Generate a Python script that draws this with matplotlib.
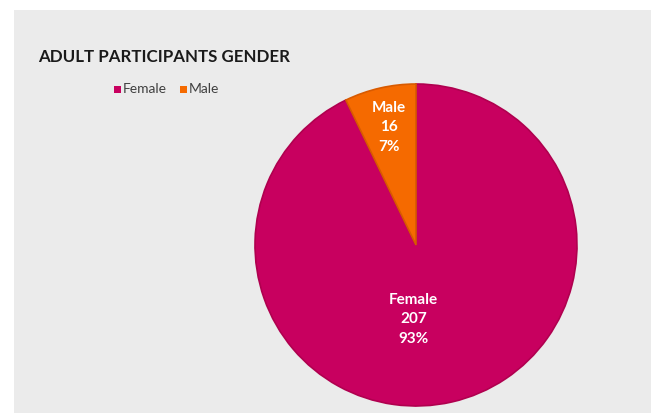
import numpy as np
import matplotlib
matplotlib.use('Agg')
import matplotlib.pyplot as plt
from matplotlib.patches import Rectangle

labels = ['Female', 'Male']
counts = [207, 16]
colors = ['#C8005F', '#F56A00']
edges = ['#B0004F', '#D85A00']
label_dist = [0.46, 0.75]
label_turn = [-15, 0]  # degrees, nudges label off the slice bisector like Excel

plt.rcParams['font.family'] = ['Lato', 'DejaVu Sans']

fig = plt.figure(figsize=(6.51, 4.13), dpi=100)
fig.patch.set_facecolor('white')
fig.patches.append(Rectangle((14 / 651, 0), 1, 403 / 413, transform=fig.transFigure,
                             facecolor='#EBEBEB', edgecolor='none', zorder=-5))

fig.text(38 / 651, 1 - 57 / 413, 'ADULT PARTICIPANTS GENDER', fontsize=12.2,
         fontweight='bold', color='#1a1a1a', va='center', ha='left')

# legend
for name, c, x in zip(labels, colors, [114, 180]):
    fig.patches.append(Rectangle((x / 651, 1 - 93 / 413), 7 / 651, 7 / 413,
                                 transform=fig.transFigure, facecolor=c, edgecolor='none'))
    fig.text((x + 9) / 651, 1 - 89 / 413, name, fontsize=10, color='#404040',
             va='center', ha='left')

cx, cy, r = 416, 413 - 245, 161
ax = fig.add_axes([(cx - r) / 651, (cy - r) / 413, 2 * r / 651, 2 * r / 413])
wedges, _ = ax.pie(counts, colors=colors, startangle=90, counterclock=False,
                   wedgeprops=dict(linewidth=1.2))
for w, e in zip(wedges, edges):
    w.set_edgecolor(e)
ax.set_xlim(-1, 1)
ax.set_ylim(-1, 1)
ax.set_aspect('equal')
ax.axis('off')

total = sum(counts)
for w, name, n, d, t in zip(wedges, labels, counts, label_dist, label_turn):
    mid = np.deg2rad((w.theta1 + w.theta2) / 2 + t)
    pct = round(100 * n / total)
    ax.text(d * np.cos(mid), d * np.sin(mid), f'{name}\n{n}\n{pct}%', color='white',
            fontsize=11, fontweight='bold', ha='center', va='center', linespacing=1.5)

fig.savefig('out.png', dpi=100)
